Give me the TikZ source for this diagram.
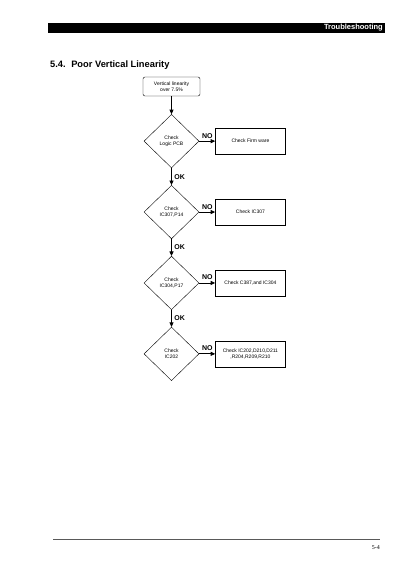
\documentclass[tikz,border=0pt]{standalone}
\usepackage{fontspec}
\setmainfont{Liberation Sans}
\newfontfamily\pgnumfont{Liberation Serif}
\usepackage{tikz}
\usetikzlibrary{positioning,shapes.geometric,arrows.meta}

\begin{document}
\begin{tikzpicture}[
      x=1pt, y=-1pt,
      node distance=17pt and 16pt,
      chk/.style={diamond, draw, thin, inner sep=0pt, minimum width=55pt, minimum height=53.5pt, align=center, font=\fontsize{5}{6}\selectfont},
      act/.style={rectangle, draw, thin, minimum width=70pt, minimum height=26pt, align=center, font=\fontsize{5}{6}\selectfont},
      lbl/.style={font=\bfseries\fontsize{7}{8}\selectfont, inner sep=2.5pt},
      arrow/.style={-{Triangle[length=4.5pt,width=4pt]}, thick}
    ]
      \useasboundingbox (0,0) rectangle (400,572);
      % page header
      \fill[black] (48,23) rectangle (385,33);
      \node[anchor=east, text=white, font=\bfseries\fontsize{7.5}{8}\selectfont, inner sep=1pt] (hd) at (384,28) {Troubleshooting};
      \node[anchor=base west, font=\bfseries\fontsize{9.3}{10}\selectfont, inner sep=0pt] (ttl) at (50,68) {5.4.\hspace{0.6em}Poor Vertical Linearity};
      % flow
      \node[act, rounded corners=2pt, minimum width=57pt, minimum height=19pt] (st) at (171.5,86.5) {Vertical linearity\\over 7.5\%};
      \node[chk, below=18pt of st] (d1) {Check\\Logic PCB};
      \node[act, right=of d1] (b1) {Check Firm ware};
      \node[chk, below=of d1] (d2) {Check\\IC307,P14};
      \node[act, right=of d2] (b2) {Check IC307};
      \node[chk, below=of d2] (d3) {Check\\IC304,P17};
      \node[act, right=of d3] (b3) {Check C387,and IC304};
      \node[chk, below=of d3] (d4) {Check\\IC202};
      \node[act, right=of d4] (b4) {Check IC202,D210,D211\\,R204,R209,R210};
      \draw[arrow] (st) -- (d1);
      \draw[arrow] (d1) -- node[lbl, right] {OK} (d2);
      \draw[arrow] (d2) -- node[lbl, right] {OK} (d3);
      \draw[arrow] (d3) -- node[lbl, right] {OK} (d4);
      \draw[arrow] (d1) -- node[lbl, pos=0, above right] {NO} (b1);
      \draw[arrow] (d2) -- node[lbl, pos=0, above right] {NO} (b2);
      \draw[arrow] (d3) -- node[lbl, pos=0, above right] {NO} (b3);
      \draw[arrow] (d4) -- node[lbl, pos=0, above right] {NO} (b4);
      % footer
      \draw[line width=0.9pt, black!65] (53,539) -- (380,539);
      \node[anchor=east, font=\pgnumfont\fontsize{6}{7}\selectfont, inner sep=0pt] (pg) at (380,548) {5-4};
    \end{tikzpicture}
\end{document}
